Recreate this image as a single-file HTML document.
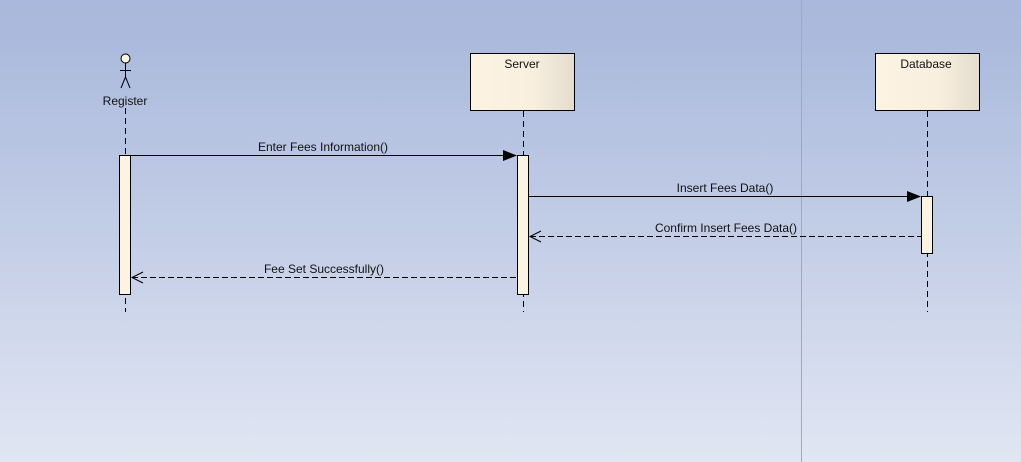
<!DOCTYPE html>
<html><head><meta charset="utf-8"><style>
html,body{margin:0;padding:0;}
body{width:1021px;height:462px;overflow:hidden;background:linear-gradient(to bottom,#a9b8dc 0px,#aab9dc 30px,#c5cfe7 250px,#e1e6f3 462px);}
svg{display:block;}
text{font-family:"Liberation Sans",Arial,sans-serif;font-size:12px;fill:#111;}
</style></head><body>
<svg width="1021" height="462" xmlns="http://www.w3.org/2000/svg">
<defs>
<linearGradient id="bx" x1="0" x2="1" y1="0" y2="0">
<stop offset="0" stop-color="#fcf3e2"/><stop offset="0.6" stop-color="#f8efdf"/><stop offset="1" stop-color="#e4dccd"/>
</linearGradient>
</defs>
<line x1="801.5" y1="0" x2="801.5" y2="462" stroke="#9fa2e0" stroke-width="1"/>
<g stroke="#000" stroke-width="1" stroke-dasharray="6,4">
<line x1="125.5" y1="108" x2="125.5" y2="312"/>
<line x1="523.5" y1="111" x2="523.5" y2="312"/>
<line x1="927.5" y1="111" x2="927.5" y2="312"/>
</g>
<g stroke="#000" stroke-width="1" fill="none">
<circle cx="125.5" cy="58.5" r="4.5" fill="#fcf3e2"/>
<line x1="125.5" y1="63" x2="125.5" y2="77"/>
<line x1="120" y1="70.5" x2="131" y2="70.5"/>
<line x1="125.5" y1="77" x2="121" y2="88"/>
<line x1="125.5" y1="77" x2="130" y2="88"/>
</g>
<text x="125" y="105" text-anchor="middle">Register</text>
<rect x="470.5" y="53.5" width="104" height="57" fill="url(#bx)" stroke="#000"/>
<text x="522" y="68" text-anchor="middle">Server</text>
<rect x="875.5" y="53.5" width="104" height="57" fill="url(#bx)" stroke="#000"/>
<text x="926" y="68" text-anchor="middle">Database</text>
<rect x="119.5" y="155.5" width="11" height="139" fill="#fcf3e2" stroke="#000"/>
<rect x="517.5" y="155.5" width="11" height="139" fill="#fcf3e2" stroke="#000"/>
<rect x="921.5" y="196.5" width="11" height="57" fill="#fcf3e2" stroke="#000"/>
<line x1="131" y1="155.5" x2="510" y2="155.5" stroke="#000"/>
<polygon points="503,150 517,155.5 503,161" fill="#000"/>
<text x="323" y="151" text-anchor="middle">Enter Fees Information()</text>
<line x1="529" y1="196.5" x2="914" y2="196.5" stroke="#000"/>
<polygon points="907,191 921,196.5 907,202" fill="#000"/>
<text x="725" y="192" text-anchor="middle">Insert Fees Data()</text>
<line x1="530" y1="236.5" x2="921" y2="236.5" stroke="#000" stroke-dasharray="6,3"/>
<polyline points="541,231 530,236.5 541,242" fill="none" stroke="#000"/>
<text x="726" y="232" text-anchor="middle">Confirm Insert Fees Data()</text>
<line x1="132" y1="277.5" x2="517" y2="277.5" stroke="#000" stroke-dasharray="6,3"/>
<polyline points="143,272 132,277.5 143,283" fill="none" stroke="#000"/>
<text x="324" y="273" text-anchor="middle">Fee Set Successfully()</text>
</svg>
</body></html>
